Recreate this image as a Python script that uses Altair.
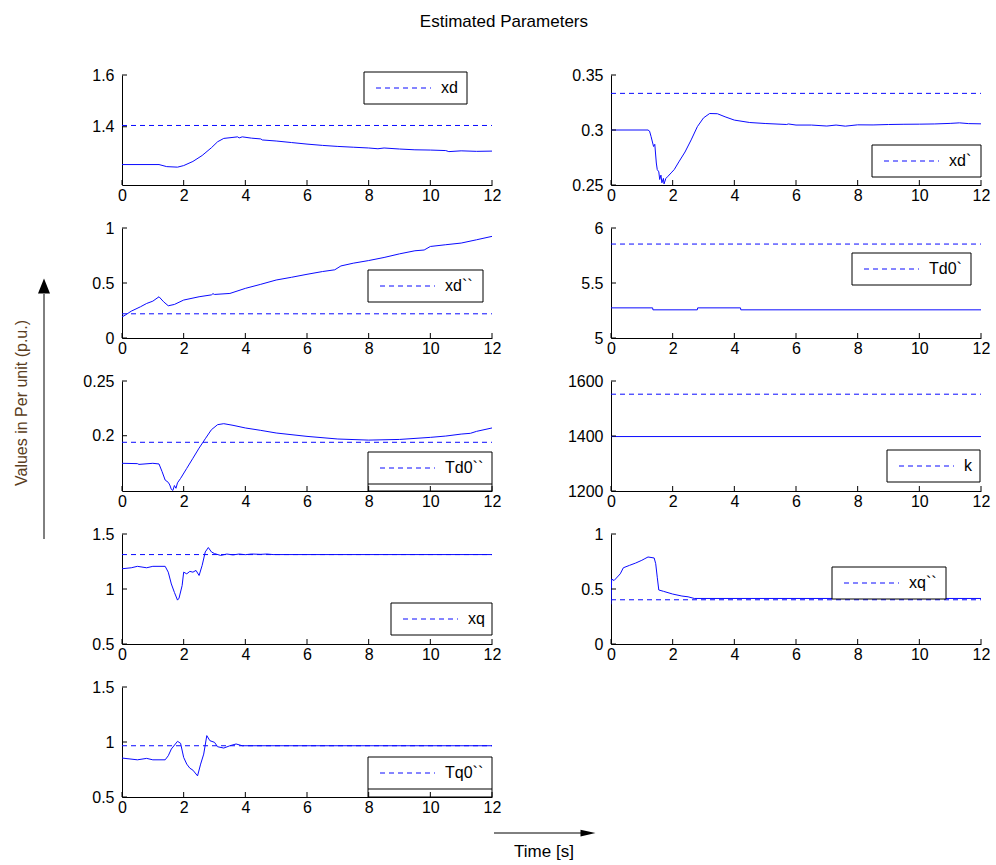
import altair as alt
import pandas as pd

FONT = "Liberation Sans"
BLUE = "#0a0aff"
W, H = 370, 110
X_TICKS = [0, 2, 4, 6, 8, 10, 12]
DASH = [5, 4]

# ---------------- values ----------------
XD_T = [0, 1.2, 1.45, 1.8, 2.0, 2.3, 2.6, 2.9, 3.1, 3.3, 3.6, 3.75, 3.8, 3.9, 4.2, 4.5, 4.55, 5.0, 5.5, 6.0,
        6.5, 7.0, 7.5, 8.0, 8.3, 8.5, 9.0, 9.5, 10.0, 10.5, 10.6, 11.0, 11.5, 12.0]
XD_V = [1.254, 1.254, 1.246, 1.244, 1.250, 1.266, 1.289, 1.319, 1.342, 1.355, 1.359, 1.361, 1.357, 1.361,
        1.356, 1.353, 1.349, 1.345, 1.339, 1.333, 1.328, 1.324, 1.321, 1.318, 1.315, 1.318, 1.314, 1.311,
        1.310, 1.308, 1.304, 1.307, 1.305, 1.306]

XD1_T = [0, 1.2, 1.25, 1.3, 1.38, 1.42, 1.47, 1.5, 1.55, 1.58, 1.62, 1.65, 1.7, 1.72, 1.78, 1.85, 1.95, 2.05,
         2.2, 2.4, 2.6, 2.8, 3.0, 3.2, 3.45, 3.7, 4.0, 4.5, 5.0, 5.7, 5.75, 6.0, 6.5, 7.0, 7.3, 7.6, 8.0, 8.5,
         9.0, 9.5, 10.0, 10.5, 11.0, 11.3, 11.6, 12.0]
XD1_V = [0.300, 0.300, 0.299, 0.294, 0.285, 0.287, 0.270, 0.264, 0.262, 0.255, 0.259, 0.252, 0.256, 0.251,
         0.256, 0.258, 0.261, 0.264, 0.271, 0.280, 0.291, 0.303, 0.311, 0.315, 0.3148, 0.312, 0.309, 0.3068,
         0.3059, 0.305, 0.3055, 0.3045, 0.3045, 0.3036, 0.3045, 0.3035, 0.3047, 0.3046, 0.305, 0.3052,
         0.3053, 0.3055, 0.306, 0.3065, 0.3058, 0.3056]

XD2_T = [0, 0.1, 0.3, 0.6, 0.8, 1.0, 1.2, 1.35, 1.5, 1.7, 2.0, 2.5, 2.9, 2.95, 3.0, 3.5, 4.0, 4.5, 5.0, 5.5,
         6.0, 6.5, 6.9, 7.1, 7.5, 8.0, 8.5, 9.0, 9.5, 9.8, 10.0, 10.5, 11.0, 11.5, 12.0]
XD2_V = [0.192, 0.207, 0.244, 0.284, 0.314, 0.335, 0.375, 0.329, 0.293, 0.305, 0.345, 0.375, 0.392, 0.403,
         0.396, 0.405, 0.451, 0.488, 0.527, 0.552, 0.579, 0.604, 0.620, 0.655, 0.680, 0.704, 0.732, 0.765,
         0.793, 0.800, 0.832, 0.848, 0.863, 0.893, 0.924]

TD1_T = [0, 1.35, 1.36, 2.8, 2.81, 4.2, 4.21, 12]
TD1_V = [5.274, 5.274, 5.256, 5.256, 5.274, 5.274, 5.256, 5.256]

TD2_T = [0, 0.5, 0.55, 1.0, 1.2, 1.3, 1.4, 1.5, 1.55, 1.6, 1.65, 1.7, 1.75, 1.8, 1.9, 2.1, 2.3, 2.5, 2.7,
         2.9, 3.1, 3.3, 3.6, 4.0, 4.5, 5.0, 6.0, 7.0, 8.0, 9.0, 10.0, 10.5, 11.0, 11.3, 11.5, 12.0]
TD2_V = [0.1748, 0.1745, 0.1738, 0.1748, 0.1742, 0.1672, 0.1595, 0.1574, 0.1550, 0.1510, 0.1500, 0.1545,
         0.1520, 0.1570, 0.1610, 0.1702, 0.1794, 0.1887, 0.1972, 0.2055, 0.2101, 0.2110, 0.2095, 0.2071,
         0.2049, 0.2025, 0.1994, 0.1970, 0.1960, 0.1966, 0.1985, 0.1997, 0.2015, 0.2022, 0.2040, 0.2071]

K_T = [0, 12]
K_V = [1398, 1398]

XQ_T = [0, 0.3, 0.5, 0.8, 1.0, 1.4, 1.5, 1.6, 1.7, 1.8, 1.85, 1.95, 2.0, 2.1, 2.2, 2.3, 2.4, 2.5, 2.6, 2.7,
        2.8, 2.9, 3.0, 3.2, 3.4, 3.6, 3.8, 4.0, 4.2, 4.5, 4.7, 4.9, 12.0]
XQ_V = [1.184, 1.193, 1.206, 1.193, 1.206, 1.206, 1.153, 1.046, 0.969, 0.899, 0.917, 1.031, 1.153, 1.138,
        1.160, 1.153, 1.169, 1.123, 1.215, 1.337, 1.377, 1.337, 1.322, 1.305, 1.318, 1.310, 1.318, 1.312,
        1.318, 1.315, 1.318, 1.313, 1.313]

XQ2_T = [0, 0.02, 0.1, 0.3, 0.4, 0.6, 0.8, 1.0, 1.1, 1.2, 1.4, 1.45, 1.5, 1.55, 1.7, 2.0, 2.3, 2.5, 2.7, 12.0]
XQ2_V = [0.36, 0.59, 0.577, 0.638, 0.693, 0.715, 0.736, 0.761, 0.776, 0.791, 0.782, 0.730, 0.607, 0.491,
         0.479, 0.454, 0.436, 0.429, 0.414, 0.414]

TQ2_T = [0, 0.5, 0.8, 1.0, 1.4, 1.5, 1.6, 1.8, 1.9, 2.0, 2.1, 2.2, 2.3, 2.45, 2.55, 2.65, 2.75, 2.85, 3.0,
         3.1, 3.3, 3.5, 3.7, 3.9, 12.0]
TQ2_V = [0.854, 0.838, 0.851, 0.838, 0.838, 0.875, 0.936, 1.006, 0.988, 0.860, 0.799, 0.762, 0.744, 0.692,
         0.799, 0.890, 1.058, 1.012, 0.997, 0.957, 0.945, 0.966, 0.982, 0.966, 0.966]

LABELS = ["xd", "xd`", "xd``", "Td0`", "Td0``", "k", "xq", "xq``", "Tq0``"]
SERIES_T = [XD_T, XD1_T, XD2_T, TD1_T, TD2_T, K_T, XQ_T, XQ2_T, TQ2_T]
SERIES_V = [XD_V, XD1_V, XD2_V, TD1_V, TD2_V, K_V, XQ_V, XQ2_V, TQ2_V]
TRUE_VALUES = [1.405, 0.3333, 0.22, 5.854, 0.194, 1552, 1.313, 0.402, 0.966]
Y_DOMAINS = [[1.175, 1.6], [0.25, 0.35], [0, 1], [5, 6], [0.1495, 0.25], [1200, 1600], [0.5, 1.5], [0, 1],
             [0.5, 1.5]]
Y_TICKS = [[1.4, 1.6], [0.25, 0.3, 0.35], [0, 0.5, 1], [5, 5.5, 6], [0.2, 0.25], [1200, 1400, 1600],
           [0.5, 1, 1.5], [0, 0.5, 1], [0.5, 1, 1.5]]

# legend box placement (pixels, relative to each plot area): x, y, width, box reaches axis
LEGEND_BOX = [(242, -3, 103, False), (261, 70, 109, False), (246, 42, 115, False), (241, 25, 119, False),
              (246, 71, 124, True), (276, 69, 93, False), (269, 69, 101, False), (221, 33, 114, False),
              (246, 70, 124, True)]


def panel(i):
    label = LABELS[i]
    xs = alt.Scale(domain=[0, 12], nice=False, zero=False)
    ys = alt.Scale(domain=Y_DOMAINS[i], nice=False, zero=False)
    xa = alt.Axis(values=X_TICKS, format="~r")
    ya = alt.Axis(values=Y_TICKS[i], format="~r")

    def X(f):
        return alt.X(f, type="quantitative", scale=xs, axis=xa, title=None)

    def Y(f):
        return alt.Y(f, type="quantitative", scale=ys, axis=ya, title=None)

    solid = alt.Chart(pd.DataFrame({"t": SERIES_T[i], "v": SERIES_V[i]})).mark_line(
        color=BLUE, strokeWidth=1, clip=True).encode(x=X("t"), y=Y("v"))
    ref = alt.Chart(pd.DataFrame({"t": [0, 12], "v": [TRUE_VALUES[i]] * 2})).mark_line(
        color=BLUE, strokeWidth=1, strokeDash=DASH, clip=True).encode(x=X("t"), y=Y("v"))

    lx, ly, bw, ext = LEGEND_BOX[i]
    ldf = pd.DataFrame({"label": [label]})
    layers = [solid, ref]
    layers.append(alt.Chart(ldf).mark_rect(fill="white", stroke="black", strokeWidth=1).encode(
        x=alt.value(lx), x2=alt.value(lx + bw), y=alt.value(ly), y2=alt.value(H if ext else ly + 32)))
    if ext:
        layers.append(alt.Chart(ldf).mark_rule(color="black", strokeWidth=1).encode(
            x=alt.value(lx), x2=alt.value(lx + bw), y=alt.value(ly + 32)))
    layers.append(alt.Chart(ldf).mark_rule(color=BLUE, strokeWidth=1, strokeDash=DASH).encode(
        x=alt.value(lx + 12), x2=alt.value(lx + 67), y=alt.value(ly + 16)))
    layers.append(alt.Chart(ldf).mark_text(align="left", baseline="middle", font=FONT, fontSize=16,
                                           color="black").encode(
        x=alt.value(lx + 77), y=alt.value(ly + 16), text="label:N"))

    # inward ticks
    layers.append(alt.Chart(pd.DataFrame({"t": X_TICKS})).mark_rule(color="black", strokeWidth=1).encode(
        x=X("t"), y=alt.value(H), y2=alt.value(H - 5)))
    layers.append(alt.Chart(pd.DataFrame({"v": Y_TICKS[i]})).mark_rule(color="black", strokeWidth=1).encode(
        y=Y("v"), x=alt.value(0), x2=alt.value(5)))

    one = pd.DataFrame({"a": [0]})
    if i == 4:
        layers.append(alt.Chart(one).mark_text(angle=270, align="center", baseline="middle", font=FONT,
                                               fontSize=16, color="#5a3d20").encode(
            x=alt.value(-100), y=alt.value(22), text=alt.value("Values in Per unit (p.u.)")))
        layers.append(alt.Chart(one).mark_rule(color="black", strokeWidth=1).encode(
            x=alt.value(-78), y=alt.value(-87), y2=alt.value(158)))
        layers.append(alt.Chart(one).mark_point(shape="M0,-1L0.8,1L-0.8,1Z", filled=True, color="black",
                                                opacity=1, size=225, strokeWidth=0).encode(
            x=alt.value(-78), y=alt.value(-95)))
    if i == 8:
        layers.append(alt.Chart(one).mark_text(align="center", baseline="middle", font=FONT,
                                               fontSize=17, color="black").encode(
            x=alt.value(422), y=alt.value(165), text=alt.value("Time [s]")))
        layers.append(alt.Chart(one).mark_rule(color="black", strokeWidth=1).encode(
            x=alt.value(372), x2=alt.value(460), y=alt.value(146)))
        layers.append(alt.Chart(one).mark_point(shape="M1,0L-1,0.45L-1,-0.45Z", filled=True, color="black",
                                                opacity=1, size=225, strokeWidth=0).encode(
            x=alt.value(466), y=alt.value(146)))
    return alt.layer(*layers).properties(width=W, height=H)


chart = alt.concat(
    *[panel(i) for i in range(9)],
    columns=2,
    spacing=alt.RowColnumber(row=43, column=119),
    bounds="flush",
).resolve_scale(x="independent", y="independent").properties(
    title=alt.TitleParams("Estimated Parameters", font=FONT, fontSize=17, fontWeight="normal",
                          color="black", anchor="middle", dx=2, offset=36),
    padding={"left": 13, "top": 13, "right": 5, "bottom": 5},
    background="white",
).configure_view(strokeWidth=0).configure_axis(
    domainColor="black", domainWidth=1, labelColor="black", labelFont=FONT, labelFontSize=16,
    ticks=False, grid=False, labelFlush=False, labelOverlap=False,
).configure_axisX(labelPadding=2).configure_axisY(labelPadding=8)

chart.save("out.html", embed_options={"renderer": "svg", "actions": False})
